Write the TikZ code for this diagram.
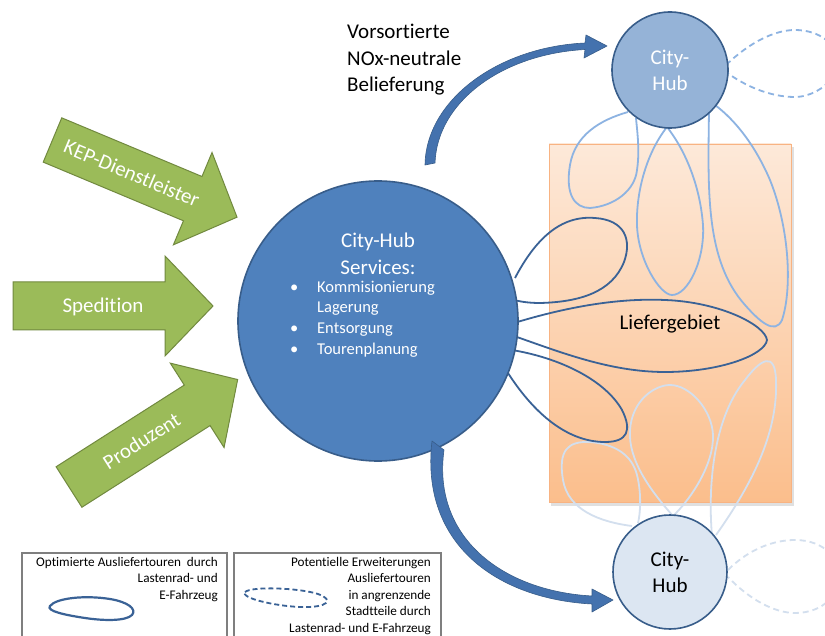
\documentclass[tikz,border=0pt]{standalone}
\usepackage{fontspec}
\setmainfont{Carlito}[Ligatures={NoCommon,NoContextual}]
\definecolor{mainblue}{HTML}{4F81BD}
\definecolor{hubedge}{HTML}{385D8A}
\definecolor{tophubfill}{HTML}{95B3D7}
\definecolor{bothubfill}{HTML}{DCE6F2}
\definecolor{loopdark}{HTML}{3A6296}
\definecolor{loopmid}{HTML}{8DB3E2}
\definecolor{looppale}{HTML}{D3DFEE}
\definecolor{arrowgreen}{HTML}{9BBB59}
\definecolor{arrowgreenedge}{HTML}{71893F}
\definecolor{orangetop}{HTML}{FDE9D9}
\definecolor{orangebot}{HTML}{FBBE8C}
\definecolor{orangeedge}{HTML}{F8B382}
\definecolor{curveblue}{HTML}{4472AE}
\definecolor{legendedge}{HTML}{7F7F7F}
\begin{document}
\begin{tikzpicture}[x=1pt,y=-1pt,
  hubdisc/.style={circle, draw=hubedge, line width=1.6pt, inner sep=0pt, align=center,
    font=\fontsize{21}{26}\selectfont},
  darkloop/.style={draw=loopdark, line width=1.8pt},
  midloop/.style={draw=loopmid, line width=1.8pt},
  paleloop/.style={draw=looppale, line width=1.8pt},
  dashloop/.style={line width=1.8pt, dash pattern=on 6pt off 4pt},
  greenarrow/.style={fill=arrowgreen, draw=arrowgreenedge, line width=1pt, line join=miter},
  arrowlabel/.style={text=white, font=\fontsize{21}{25}\selectfont, inner sep=0pt, transform shape},
  curvearrow/.style={fill=curveblue, draw=hubedge, line width=0.6pt, line join=round},
  legendbox/.style={draw=legendedge, line width=1.1pt},
  legendtext/.style={font=\fontsize{13.2}{16.5}\selectfont, align=right, inner sep=0pt, anchor=north east}
]
\clip (0,0) rectangle (825,636);
\fill[white] (0,0) rectangle (825,636);

% delivery area
\fill[black, opacity=0.12] (551,147) rectangle (794,506);
\shade[top color=orangetop, bottom color=orangebot] (549,144) rectangle (791,502);
\draw[orangeedge, line width=0.8pt] (549,144) rectangle (791,502);
\node[font=\fontsize{21}{25}\selectfont, inner sep=0pt] (gebiet) at (670,324) {Liefergebiet};

% tours of the upper city hub
\draw[midloop] (628,112) .. controls (600,120) and (575,135) .. (570,165)
  .. controls (565,195) and (575,208) .. (590,208)
  .. controls (615,206) and (635,190) .. (637,170)
  .. controls (640,150) and (637,130) .. (636,118);
\draw[midloop] (667,127) .. controls (645,155) and (636,195) .. (637,225)
  .. controls (638,260) and (660,295) .. (672,295)
  .. controls (688,295) and (705,260) .. (703,225)
  .. controls (700,185) and (685,150) .. (667,127);
\draw[midloop] (709,110) .. controls (708,190) and (705,260) .. (745,305)
  .. controls (760,322) and (775,335) .. (782,320)
  .. controls (792,290) and (790,230) .. (770,180)
  .. controls (755,145) and (735,120) .. (715,105);
\draw[dashloop, loopmid] (726,65) .. controls (750,42) and (775,30) .. (795,30)
  .. controls (820,30) and (838,45) .. (838,62)
  .. controls (838,80) and (815,97) .. (795,97)
  .. controls (770,97) and (745,86) .. (726,72);

% tours of the lower city hub
\draw[paleloop] (632,526) .. controls (600,522) and (568,510) .. (563,480)
  .. controls (558,450) and (568,441) .. (590,442)
  .. controls (615,444) and (632,455) .. (637,475)
  .. controls (642,495) and (640,515) .. (638,523);
\draw[paleloop] (673,516) .. controls (650,490) and (628,460) .. (630,430)
  .. controls (632,400) and (655,385) .. (670,385)
  .. controls (690,385) and (712,410) .. (713,435)
  .. controls (714,465) and (690,500) .. (673,516);
\draw[paleloop] (712,536) .. controls (708,490) and (712,420) .. (745,380)
  .. controls (760,360) and (775,350) .. (776,380)
  .. controls (778,430) and (755,480) .. (716,535);
\draw[dashloop, looppale] (728,570) .. controls (750,548) and (775,540) .. (795,540)
  .. controls (825,540) and (840,560) .. (840,576)
  .. controls (840,592) and (825,613) .. (795,613)
  .. controls (775,613) and (750,600) .. (728,577);

% tours of the central hub
\draw[darkloop] (515,278) .. controls (535,240) and (560,215) .. (595,218)
  .. controls (625,220) and (632,240) .. (624,262)
  .. controls (612,292) and (580,302) .. (540,303)
  .. controls (530,303) and (522,302) .. (514,300);
\draw[darkloop] (514,323) .. controls (570,306) and (620,298) .. (665,300)
  .. controls (720,302) and (765,325) .. (767,340)
  .. controls (765,355) and (720,372) .. (665,372)
  .. controls (610,372) and (560,352) .. (514,336);
\draw[darkloop] (512,350) .. controls (560,358) and (605,380) .. (622,410)
  .. controls (632,430) and (628,442) .. (605,442)
  .. controls (565,442) and (530,410) .. (503,365);

% hubs
\node[hubdisc, fill=mainblue, minimum size=280pt] (main) at (378,321) {};
\node[hubdisc, fill=tophubfill, minimum size=116pt, text=white] (tophub) at (670,70) {City-\\Hub};
\node[hubdisc, fill=bothubfill, minimum size=114pt, text=black] (bothub) at (670,572) {City-\\Hub};

\node[text=white, align=center, inner sep=0pt, font=\fontsize{21}{27}\selectfont] (title) at (378,254) {City-Hub\\Services:};
\node[text=white, align=left, inner sep=0pt, anchor=west, font=\fontsize{16.5}{20.7}\selectfont] (services) at (290,319)
  {\makebox[27pt][l]{•}Kommisionierung\\
   \makebox[27pt][l]{}Lagerung\\
   \makebox[27pt][l]{•}Entsorgung\\
   \makebox[27pt][l]{•}Tourenplanung};

% supply arrows
\begin{scope}[shift={(52.5,140)}, rotate=-22.7]
  \draw[greenarrow] (0,-24) -- (152,-24) -- (152,-50) -- (200,0) -- (152,50) -- (152,24) -- (0,24) -- cycle;
  \node[arrowlabel] (kep) at (86,0) {KEP-Dienstleister};
\end{scope}
\begin{scope}[shift={(13,306)}]
  \draw[greenarrow] (0,-24) -- (152,-24) -- (152,-50) -- (200,0) -- (152,50) -- (152,24) -- (0,24) -- cycle;
  \node[arrowlabel] (spedition) at (90,1) {Spedition};
\end{scope}
\begin{scope}[shift={(69,487)}, rotate=32.5]
  \draw[greenarrow] (0,-24) -- (152,-24) -- (152,-50) -- (200,0) -- (152,50) -- (152,24) -- (0,24) -- cycle;
  \node[arrowlabel] (produzent) at (86,0) {Produzent};
\end{scope}

% curved transfer arrows
\draw[curvearrow] (425,165) .. controls (426,100) and (498,47) .. (585,43)
  -- (586,35) -- (607,46) -- (584,58) -- (585,49.5)
  .. controls (502,54) and (437,102) .. (435,163) -- cycle;
\draw[curvearrow] (432,441) .. controls (420,545) and (498,599) .. (592,604)
  -- (592,612) -- (613,600) -- (592,589) -- (592,596)
  .. controls (502,591) and (432,537) .. (444,450) -- cycle;

\node[anchor=west, align=left, inner sep=0pt, font=\fontsize{21}{26.5}\selectfont] (vorsort) at (347,60)
  {Vorsortierte\\NOx-neutrale\\Belieferung};

% legend
\draw[legendbox] (22,553) rectangle (227,660);
\draw[legendbox] (234,553) rectangle (441,660);
\node[legendtext] (legA) at (218,557) {Optimierte Ausliefer{}touren\ \ durch\\Lastenrad-\ und\\E-Fahrzeug};
\node[legendtext] (legB) at (431,557) {Potentielle Erweiterungen\\Ausliefer{}touren\\in angrenzende\\Stadtteile durch\\Lastenrad-\ und E-Fahrzeug};
\draw[darkloop, line width=2.2pt] (50,606) .. controls (56,598) and (85,595) .. (110,599)
  .. controls (128,602) and (137,609) .. (132,615)
  .. controls (126,621) and (105,621) .. (85,618)
  .. controls (65,615) and (46,611) .. (50,606) -- cycle;
\draw[dashloop, loopdark, dash pattern=on 5pt off 3pt] (245,592) .. controls (252,586) and (300,588) .. (318,594)
  .. controls (335,600) and (328,608) .. (300,607)
  .. controls (275,606) and (240,598) .. (245,592) -- cycle;
\end{tikzpicture}
\end{document}
